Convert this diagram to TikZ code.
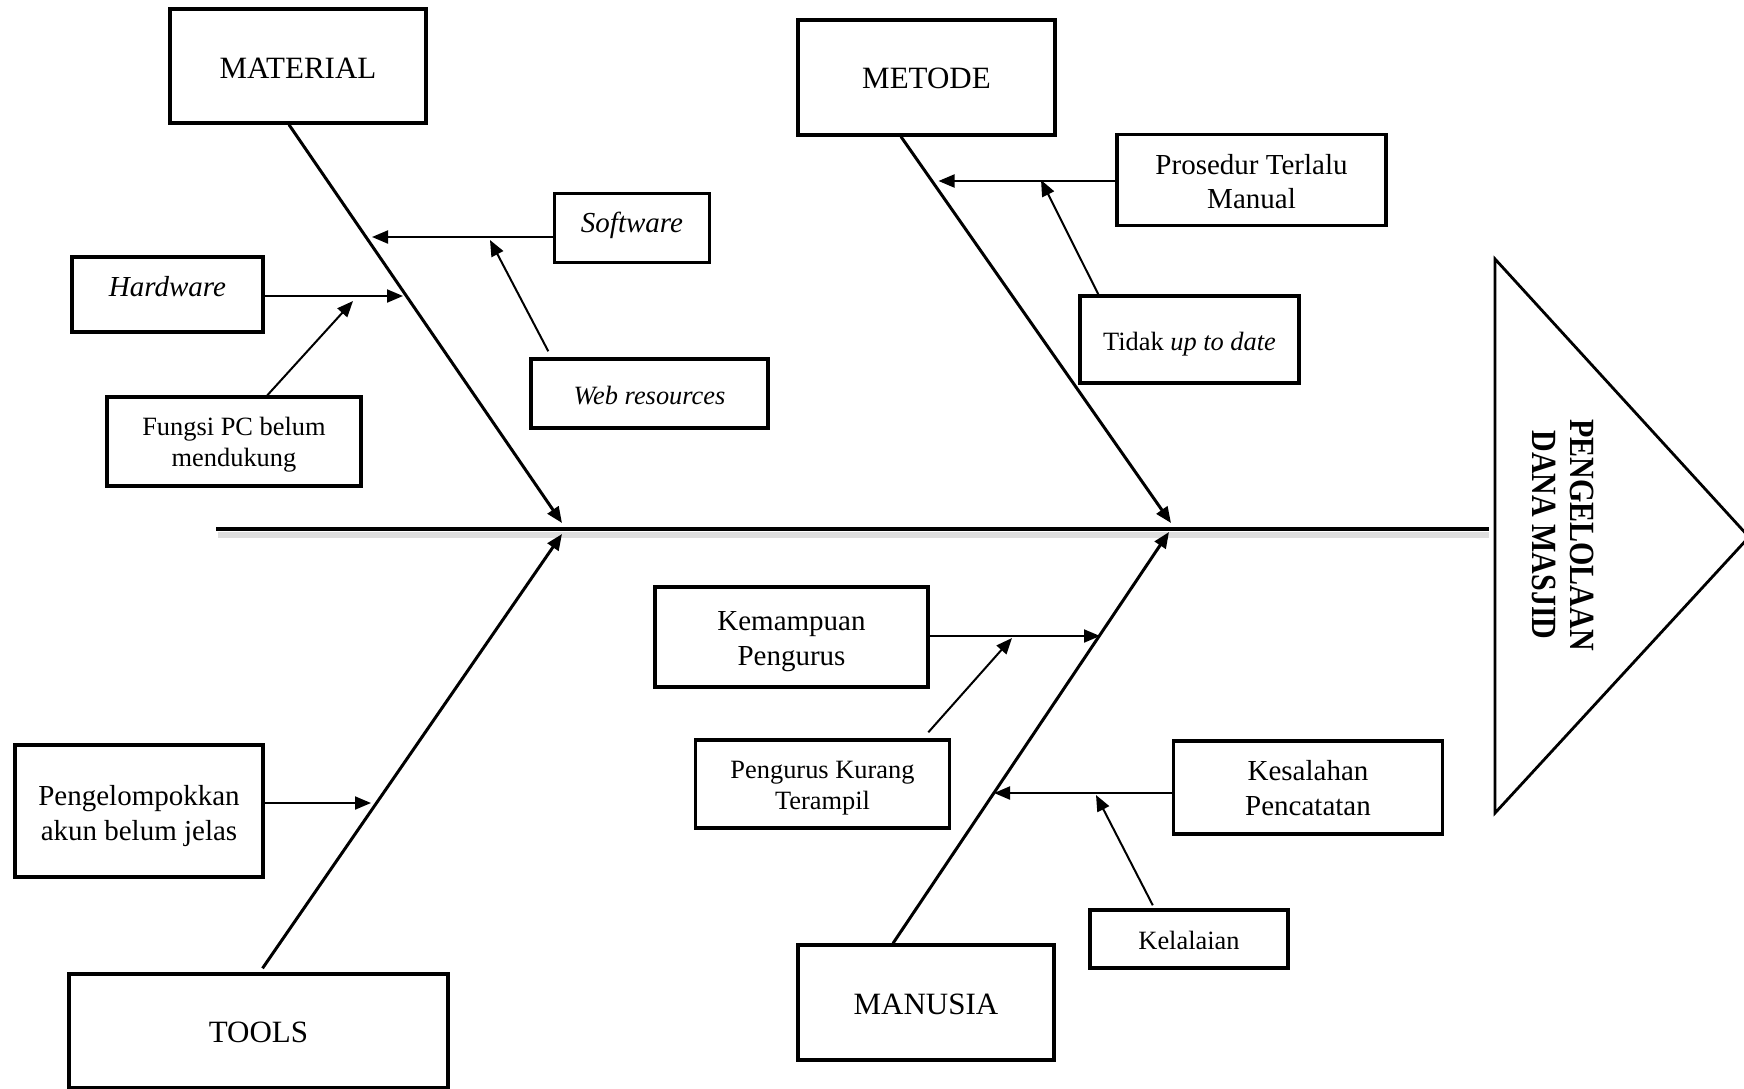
\documentclass[tikz,border=0pt]{standalone}
\usepackage{fontspec}
\setmainfont{Liberation Serif}
\usetikzlibrary{arrows.meta,calc}
\newcommand\shiftedtxt[2]{\raisebox{#1}[\height][\depth]{#2}}
\newcommand\twolines[2]{\begin{tabular}{@{}c@{}}#1\\#2\end{tabular}}
\begin{document}
\begin{tikzpicture}[x=0.5pt,y=-0.5pt,
  box/.style={draw,line width=1.7pt,align=center,inner sep=2pt},
  bigtxt/.style={font=\fontsize{15.5pt}{18pt}\selectfont},
  midtxt/.style={font=\fontsize{14.5pt}{17.3pt}\selectfont},
  smalltxt/.style={font=\fontsize{13.2pt}{15.5pt}\selectfont},
  bone/.style={line width=1.5pt,-{Triangle[length=8pt,width=6.5pt]}},
  twig/.style={line width=1pt,-{Triangle[length=8pt,width=6.5pt]}},
  spine/.style={line width=2pt},
  shadowline/.style={line width=3pt,black!13},
  headshape/.style={line width=1.4pt,line join=miter},
]
\useasboundingbox (0,0) rectangle (1744,1088);

% category boxes
\node[box,bigtxt,minimum width=128pt,minimum height=57pt] (material) at (298,66) {\shiftedtxt{-1.1pt}{MATERIAL}};
\node[box,bigtxt,minimum width=128.5pt,minimum height=57.5pt] (metode) at (926.5,77.5) {\shiftedtxt{-0.5pt}{METODE}};
\node[box,bigtxt,minimum width=189.5pt,minimum height=57pt] (tools) at (258.5,1031) {\shiftedtxt{-0.5pt}{TOOLS}};
\node[box,bigtxt,minimum width=128pt,minimum height=57.5pt] (manusia) at (926,1002.5) {\shiftedtxt{-1.1pt}{MANUSIA}};

% cause boxes
\node[box,midtxt,minimum width=134.5pt,minimum height=45.5pt] (prosedur) at (1251.5,180) {\shiftedtxt{-2.2pt}{\twolines{Prosedur Terlalu}{Manual}}};
\node[box,smalltxt,minimum width=109.5pt,minimum height=43.5pt] (tidak) at (1189.5,339.5) {\shiftedtxt{-2.2pt}{Tidak \textit{up to date}}};
\node[box,midtxt,minimum width=77.5pt,minimum height=34.5pt] (software) at (632,228) {\shiftedtxt{1.1pt}{\textit{Software}}};
\node[box,midtxt,minimum width=95.5pt,minimum height=37.5pt] (hardware) at (167.5,294.5) {\shiftedtxt{3.9pt}{\textit{Hardware}}};
\node[box,smalltxt,minimum width=118.5pt,minimum height=34.5pt] (web) at (649.5,393.5) {\shiftedtxt{-1.1pt}{\textit{Web resources}}};
\node[box,smalltxt,minimum width=127pt,minimum height=44.5pt] (fungsi) at (234,441.5) {\shiftedtxt{-1.5pt}{\twolines{Fungsi PC belum}{mendukung}}};
\node[box,midtxt,minimum width=124pt,minimum height=66pt] (kelompok) at (139,811) {\shiftedtxt{-2.4pt}{\twolines{Pengelompokkan}{akun belum jelas}}};
\node[box,midtxt,minimum width=136.5pt,minimum height=50pt] (kemampuan) at (791.5,637) {\shiftedtxt{-2pt}{\twolines{Kemampuan}{Pengurus}}};
\node[box,smalltxt,minimum width=127pt,minimum height=44pt] (kurang) at (822.5,784) {\shiftedtxt{-1.8pt}{\twolines{Pengurus Kurang}{Terampil}}};
\node[box,midtxt,minimum width=134.5pt,minimum height=46.5pt] (kesalahan) at (1308,787.5) {\shiftedtxt{-1.7pt}{\twolines{Kesalahan}{Pencatatan}}};
\node[box,smalltxt,minimum width=99pt,minimum height=29pt] (kelalaian) at (1189,939) {\shiftedtxt{-0.5pt}{Kelalaian}};

% head
\draw[headshape] (1495,259) -- (1749,537) -- (1495,813) -- cycle;
\node[rotate=-90,inner sep=0pt] (head) at (1559,535)
  {\scalebox{1}[1.18]{\fontsize{15pt}{16.1pt}\selectfont\bfseries
   \begin{tabular}{@{}c@{}}PENGELOLAAN\\DANA MASJID\end{tabular}}};

% spine
\coordinate (sL) at (216,529);
\coordinate (sR) at (1489,529);
\draw[shadowline] (218,535) -- (1489,535);
\draw[spine] (sL) -- (sR);

% bone ends
\coordinate (j1) at (562,523);
\coordinate (j2) at (1171,523);
\coordinate (j3) at (562,534);
\coordinate (j4) at (1169,532);
\draw[bone] ($(material.south)+(-9,0)$) -- (j1);
\draw[bone] ($(metode.south)+(-25.5,0)$) -- (j2);
\draw[bone] ($(tools.north)+(4,-4)$) -- (j3);
\draw[bone] ($(manusia.north)+(-33,0)$) -- (j4);

% twig ends
\coordinate (sw) at (372,237);
\coordinate (hw) at (403,296);
\coordinate (wb) at (490,240);
\coordinate (fg) at (353,301);
\coordinate (pr) at (938.5,181);
\coordinate (td) at (1041,180);
\coordinate (kl) at (371,803);
\coordinate (km) at (1100,636);
\coordinate (kr) at (1012,638);
\coordinate (ks) at (994,793);
\coordinate (ll) at (1096,795);

\draw[twig] (software.west |- sw) -- (sw);
\draw[twig] (hardware.east |- hw) -- (hw);
\draw[twig] ($(web.north west)+(19,-6)$) -- (wb);
\draw[twig] ($(fungsi.north west)+(162,0)$) -- (fg);
\draw[twig] (prosedur.west |- pr) -- (pr);
\draw[twig] ($(tidak.north west)+(20,0)$) -- (td);
\draw[twig] (kelompok.east |- kl) -- (kl);
\draw[twig] (kemampuan.east |- km) -- (km);
\draw[twig] ($(kurang.north west)+(234.5,-6)$) -- (kr);
\draw[twig] (kesalahan.west |- ks) -- (ks);
\draw[twig] ($(kelalaian.north west)+(64.5,-3)$) -- (ll);
\end{tikzpicture}
\end{document}
